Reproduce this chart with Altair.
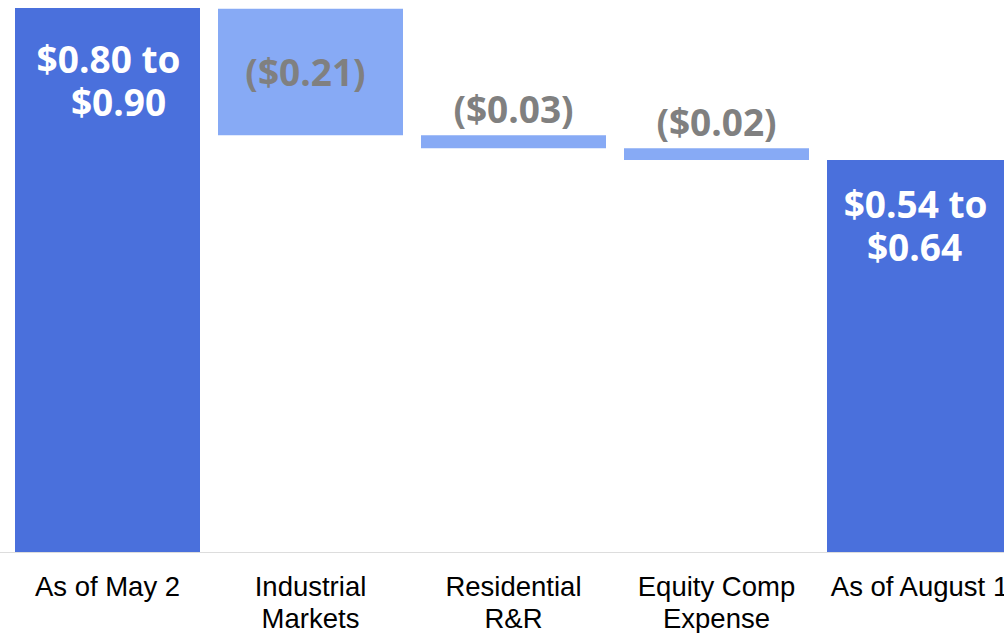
import altair as alt
import pandas as pd

categories = ["As of May 2", "Industrial\nMarkets", "Residential\nR&R", "Equity Comp\nExpense", "As of August 1"]
bar_top = [0.85, 0.849, 0.651, 0.631, 0.6125]
bar_bottom = [0.0, 0.651, 0.631, 0.6125, 0.0]
kind = ["total", "change", "change", "change", "total"]
label_line1 = ["$0.80 to", "($0.21)", "($0.03)", "($0.02)", "$0.54 to"]
label_line2 = ["$0.90", "", "", "", "$0.64"]

df = pd.DataFrame({
    "cat": categories,
    "top": bar_top,
    "bottom": bar_bottom,
    "kind": kind,
    "line1": label_line1,
    "line2": label_line2,
})
df["mid"] = (df["top"] + df["bottom"]) / 2
df["size"] = df["top"] - df["bottom"]

xscale = alt.Scale(paddingInner=0.0887, paddingOuter=0.0739, range=[0, 1027])
xaxis = alt.Axis(
    title=None,
    labelExpr="split(datum.value, '\\n')",
    labelAngle=0,
    labelFont="Liberation Sans",
    labelFontSize=27.5,
    labelColor="#000000",
    labelLineHeight=32,
    labelPadding=21,
    labelOverlap=False,
    labelBound=False,
    ticks=False,
    domain=True,
    domainColor="#BBBBBB",
    domainDash=[1, 1],
    domainWidth=1,
    grid=False,
)
xenc = alt.X("cat:N", sort=categories, scale=xscale, axis=xaxis)
yscale = alt.Scale(domain=[0, 0.85], nice=False, zero=True)


def ypos(field):
    return alt.Y(field, scale=yscale, axis=None)


base = alt.Chart(df)

bars = base.mark_bar().encode(
    x=xenc,
    y=ypos("top:Q"),
    y2="bottom:Q",
    color=alt.Color(
        "kind:N",
        scale=alt.Scale(domain=["total", "change"], range=["#4A70DC", "#87AAF5"]),
        legend=None,
    ),
)

total_style = dict(font="Open Sans", fontWeight="bold", fontSize=37, color="#FFFFFF",
                   baseline="top", align="center")

first_line1 = base.transform_filter(alt.datum.cat == categories[0]).mark_text(
    dy=36, dx=1, **total_style
).encode(x=xenc, y=ypos("top:Q"), text="line1:N")

first_line2 = base.transform_filter(alt.datum.cat == categories[0]).mark_text(
    dy=79, dx=11, **total_style
).encode(x=xenc, y=ypos("top:Q"), text="line2:N")

last_line1 = base.transform_filter(alt.datum.cat == categories[-1]).mark_text(
    dy=29, dx=-4, **total_style
).encode(x=xenc, y=ypos("top:Q"), text="line1:N")

last_line2 = base.transform_filter(alt.datum.cat == categories[-1]).mark_text(
    dy=72, dx=-5, **total_style
).encode(x=xenc, y=ypos("top:Q"), text="line2:N")

change_style = dict(font="Open Sans", fontWeight="bold", fontSize=37, color="#808080", align="center")

inside_text = base.transform_filter((alt.datum.kind == "change") & (alt.datum.size > 0.1)).mark_text(
    baseline="middle", dx=-5, dy=3, **change_style
).encode(x=xenc, y=ypos("mid:Q"), text="line1:N")

above_text = base.transform_filter((alt.datum.kind == "change") & (alt.datum.size <= 0.1)).mark_text(
    baseline="bottom", dy=-4, **change_style
).encode(x=xenc, y=ypos("top:Q"), text="line1:N")

chart = (
    alt.layer(bars, first_line1, first_line2, last_line1, last_line2, inside_text, above_text)
    .properties(
        width=1004, height=544,
        padding={"top": 8, "left": 0, "right": 0, "bottom": 81},
        autosize="none",
        background="#FFFFFF",
    )
    .configure_view(stroke="transparent", strokeWidth=0)
)

chart.save("out.html", embed_options={"renderer": "svg", "actions": False})
